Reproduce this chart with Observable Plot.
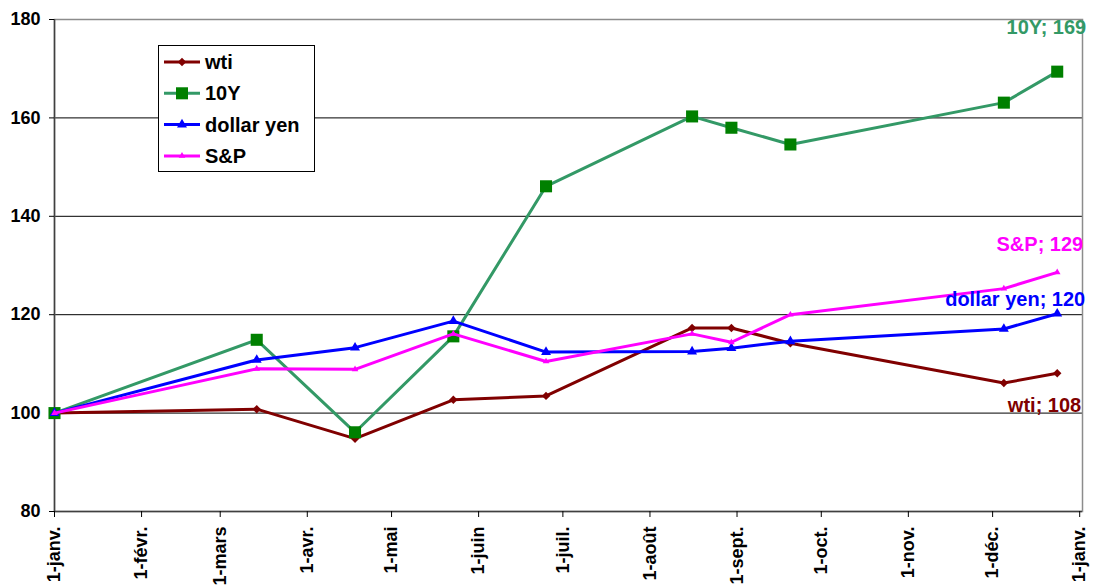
<!DOCTYPE html>
<html>
<head>
<meta charset="utf-8">
<script src="https://cdn.jsdelivr.net/npm/d3@7"></script>
<script src="https://cdn.jsdelivr.net/npm/@observablehq/plot@0.6"></script>
<style>
  html, body { margin: 0; padding: 0; background: white; }
  #chart { position: relative; width: 1093px; height: 585px; font-family: "Liberation Sans", Arial, sans-serif; }
</style>
</head>
<body>
<div id="chart"></div>
<script>
// Observation dates (2013) and index values (1 Jan = 100)
const dates = ["2013-01-01", "2013-03-14", "2013-04-18", "2013-05-23", "2013-06-25",
               "2013-08-16", "2013-08-30", "2013-09-20", "2013-12-05", "2013-12-24"];
const wti       = [100, 100.8,  94.8, 102.7, 103.5, 117.3, 117.3, 114.2, 106.1, 108.1];
const tenY      = [100, 114.9,  96.1, 115.6, 146.1, 160.3, 158.0, 154.6, 163.1, 169.4];
const dollarYen = [100, 110.8, 113.3, 118.7, 112.4, 112.5, 113.2, 114.6, 117.1, 120.2];
const sp        = [100, 109.0, 108.9, 116.1, 110.5, 116.1, 114.4, 120.0, 125.3, 128.6];

const seriesNames = ["wti", "10Y", "dollar yen", "S&P"];
const monthLabels = ["1-janv.", "1-févr.", "1-mars", "1-avr.", "1-mai", "1-juin",
                     "1-juil.", "1-août", "1-sept.", "1-oct.", "1-nov.", "1-déc."];
const yTicks = [80, 100, 120, 140, 160, 180];

// Styling per series
const styles = {
  "wti":        {line: "#800000", fill: "#800000", symbol: d3.symbolDiamond2, r: 3.8, label: "#800000", dx: 24, dy: 39},
  "10Y":        {line: "#339966", fill: "#008000", symbol: d3.symbolSquare,   r: 6.8, label: "#339966", dx: 29, dy: -38},
  "dollar yen": {line: "#0000ff", fill: "#0000ff", symbol: d3.symbolTriangle, r: 3.7, label: "#0000ff", dx: 28, dy: -8},
  "S&P":        {line: "#ff00ff", fill: "#ff00ff", symbol: d3.symbolTriangle, r: 2.45, label: "#ff00ff", dx: 26, dy: -21}
};

const valuesBySeries = {"wti": wti, "10Y": tenY, "dollar yen": dollarYen, "S&P": sp};
const parse = d3.utcParse("%Y-%m-%d");
const rows = seriesNames.flatMap(name =>
  dates.map((d, i) => ({series: name, date: parse(d), value: valuesBySeries[name][i]})));

const start = parse("2013-01-01");
const end = parse("2014-01-02");
const monthTicks = d3.utcMonths(start, parse("2014-01-02"));

const marks = [
  Plot.ruleY([100, 120, 140, 160], {stroke: "#000", strokeWidth: 1}),
  Plot.frame({stroke: "#8c8c8c", strokeWidth: 1.5}),
  Plot.ruleX([start], {stroke: "#404040", strokeWidth: 1.5}),
  Plot.ruleY([80], {stroke: "#404040", strokeWidth: 1.5}),
  Plot.axisY({ticks: yTicks, tickSize: 5, tickPadding: 9, label: null, fontSize: 18}),
  Plot.axisX({ticks: monthTicks, tickSize: 6, tickPadding: 9, tickRotate: -90, label: null, fontSize: 18,
              tickFormat: d => monthLabels[d.getUTCMonth()]})
];

for (const name of seriesNames) {
  const s = styles[name];
  const data = rows.filter(r => r.series === name);
  marks.push(
    Plot.line(data, {x: "date", y: "value", stroke: s.line, strokeWidth: 3}),
    Plot.dot(data, {x: "date", y: "value", symbol: s.symbol, r: s.r, fill: s.fill, stroke: "none"})
  );
}
for (const name of seriesNames) {
  const s = styles[name];
  const data = rows.filter(r => r.series === name);
  marks.push(Plot.text(data.slice(-1), {
    x: "date", y: "value", text: d => `${d.series}; ${Math.round(d.value)}`,
    fill: s.label, fontSize: 20, fontWeight: "bold", textAnchor: "end", lineAnchor: "bottom",
    dx: s.dx, dy: s.dy
  }));
}

const chart = Plot.plot({
  width: 1093,
  height: 585,
  marginLeft: 54,
  marginRight: 11,
  marginTop: 19,
  marginBottom: 74,
  x: {type: "utc", domain: [start, end]},
  y: {domain: [80, 180]},
  style: {fontFamily: "'Liberation Sans', Arial, sans-serif", fontWeight: "bold", color: "black", background: "white", overflow: "visible"},
  marks
});
document.getElementById("chart").appendChild(chart);

// Legend box
const legend = d3.select("#chart").append("svg")
  .attr("width", 158).attr("height", 128)
  .style("position", "absolute").style("left", "158px").style("top", "45px")
  .style("font-family", "'Liberation Sans', Arial, sans-serif");
legend.append("rect").attr("x", 0.5).attr("y", 0.5).attr("width", 156).attr("height", 126)
  .attr("fill", "white").attr("stroke", "black");
seriesNames.forEach((name, i) => {
  const s = styles[name];
  const g = legend.append("g").attr("transform", `translate(0,${17 + i * 31.3})`);
  g.append("line").attr("x1", 6).attr("x2", 42).attr("stroke", s.line).attr("stroke-width", 3);
  g.append("path").attr("d", d3.symbol(s.symbol, s.r * s.r * Math.PI)())
    .attr("transform", "translate(24,0)").attr("fill", s.fill);
  g.append("text").attr("x", 47).attr("dy", "0.35em").attr("font-size", 20)
    .attr("font-weight", "bold").attr("fill", "black").text(name);
});
</script>
</body>
</html>
